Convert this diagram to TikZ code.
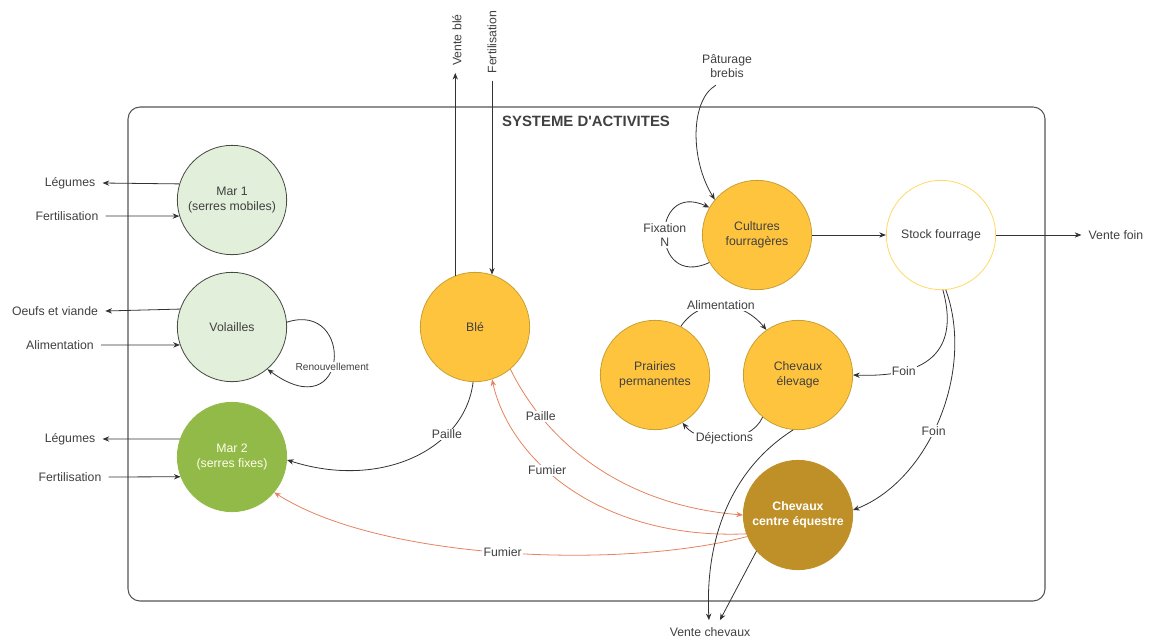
\documentclass[tikz,border=0pt]{standalone}
\usepackage{fontspec}
\setmainfont{Liberation Sans}
\usetikzlibrary{arrows.meta}

\begin{document}
\begin{tikzpicture}[x=0.75pt, y=-0.75pt,
    every node/.style={font=\fontsize{9.2}{11}\selectfont, text=txtgray},
    activ/.style={circle, minimum size=82pt, inner sep=0pt, align=center, line width=0.6pt},
    pale/.style={activ, fill=palegreen, draw=edgegray},
    jaune/.style={activ, fill=cropyellow, draw=cropedge},
    lbl/.style={inner sep=2pt, outer sep=3.5pt, align=center},
    onpath/.style={fill=white, inner sep=1pt},
    flow/.style={-{Stealth[length=5pt,width=4pt]}, line width=0.6pt, draw=linegray},
    fumier/.style={flow, draw=manure}]

   %my colors
\definecolor{txtgray}{RGB}{64,64,64}
\definecolor{linegray}{RGB}{50,50,50}
\definecolor{edgegray}{RGB}{70,75,65}
\definecolor{framegray}{RGB}{85,85,85}
\definecolor{palegreen}{RGB}{226,239,218}
\definecolor{grassgreen}{RGB}{146,186,72}
\definecolor{cropyellow}{RGB}{255,196,62}
\definecolor{cropedge}{RGB}{200,160,50}
\definecolor{stockedge}{RGB}{255,217,102}
\definecolor{equestre}{RGB}{191,144,40}
\definecolor{manure}{RGB}{230,130,95}

    \useasboundingbox (0,0) rectangle (1153,643);

    % Frame of the system
    \draw[framegray, line width=0.8pt, rounded corners=9pt] (128,107) rectangle (1045,601);
    \node[font=\fontsize{11.2}{13}\selectfont\bfseries] (titre) at (586,121) {SYSTEME D\textquotesingle ACTIVITES};

    % Activities
    \node[pale] (mar1) at (232,200) {Mar 1\\(serres mobiles)};
    \node[pale] (vol) at (232,327) {Volailles};
    \node[activ, fill=grassgreen, draw=grassgreen, text=white!92!yellow] (mar2) at (232,457) {Mar 2\\(serres fixes)};
    \node[jaune] (ble) at (475,327) {Blé};
    \node[jaune] (cult) at (757,235) {Cultures\\fourragères};
    \node[activ, fill=white, draw=stockedge] (stock) at (941,235) {Stock fourrage};
    \node[jaune] (prai) at (655,375) {Prairies\\permanentes};
    \node[jaune] (chel) at (798,375) {Chevaux\\élevage};
    \node[activ, fill=equestre, draw=equestre, text=white, font=\fontsize{9.2}{11}\selectfont\bfseries] (cheq) at (798,515) {Chevaux\\centre équestre};

    % Outside flows
    \node[lbl] (leg1) at (70,183) {Légumes};
    \node[lbl] (fert1) at (67,216) {Fertilisation};
    \node[lbl] (oeufs) at (55,311) {Oeufs et viande};
    \node[lbl] (alim1) at (60,345) {Alimentation};
    \node[lbl] (leg2) at (70,439) {Légumes};
    \node[lbl] (fert2) at (70,477) {Fertilisation};
    \node[lbl, rotate=90] (venteble) at (457,40) {Vente blé};
    \node[lbl, rotate=90] (fertb) at (492,42) {Fertilisation};
    \node[lbl] (past) at (727,66) {Pâturage\\brebis};
    \node[lbl] (ventefoin) at (1116,235) {Vente foin};
    \node[lbl] (vch) at (710,632) {Vente chevaux};

    \draw[flow] (mar1.163) -- (leg1.east);
    \draw[flow] (fert1.east) -- (mar1.197);
    \draw[flow] (vol.161) -- (oeufs.east);
    \draw[flow] (alim1.east) -- (vol.199);
    \draw[flow] (mar2.161) -- (leg2.east);
    \draw[flow] (fert2.east) -- (mar2.201);
    \draw[flow] (ble.111) -- (ble.111 |- venteble.west);
    \draw[flow] (ble.72 |- fertb.west) -- (ble.72);
    \draw[flow] (past.240) .. controls (690,100) and (690,160) .. (cult.140);
    \draw[flow] (cult) -- (stock);
    \draw[flow] (stock) -- (ventefoin);

    % Loops
    \draw[flow] (vol.5) .. controls (355,300) and (350,430) .. (vol.-50)
        node[pos=0.55, onpath, font=\fontsize{7.6}{9}\selectfont] {Renouvellement};
    \draw[flow] (cult.-150) .. controls (650,290) and (650,180) .. (cult.150)
        node[pos=0.5, onpath, align=center] {Fixation\\N};

    % Inner flows
    \draw[flow] (ble.-92) .. controls (465,450) and (380,490) .. (mar2.-3)
        node[pos=0.3, onpath] {Paille};
    \draw[fumier] (ble.-50) .. controls (545,440) and (620,505) .. (cheq.west)
        node[pos=0.23, onpath] {Paille};
    \draw[fumier] (cheq.-160) .. controls (600,540) and (510,460) .. (ble.-72)
        node[pos=0.6, onpath] {Fumier};
    \draw[fumier] (cheq.-157) .. controls (620,570) and (380,560) .. (mar2.-40)
        node[pos=0.5, onpath] {Fumier};
    \draw[flow] (prai.62) .. controls (700,298) and (740,298) .. (chel.125)
        node[pos=0.5, onpath] {Alimentation};
    \draw[flow] (chel.-130) .. controls (750,445) and (700,445) .. (prai.-60)
        node[pos=0.5, onpath] {Déjections};
    \draw[flow] (stock.-88) .. controls (958,345) and (935,378) .. (chel.east)
        node[pos=0.75, onpath] {Foin};
    \draw[flow] (stock.-85) .. controls (975,370) and (930,480) .. (cheq.5)
        node[pos=0.55, onpath] {Foin};
    \draw[flow] (chel.-95) .. controls (730,470) and (705,540) .. (vch.95);
    \draw[flow] (cheq.-139) -- (vch.50);

\end{tikzpicture}
\end{document}
